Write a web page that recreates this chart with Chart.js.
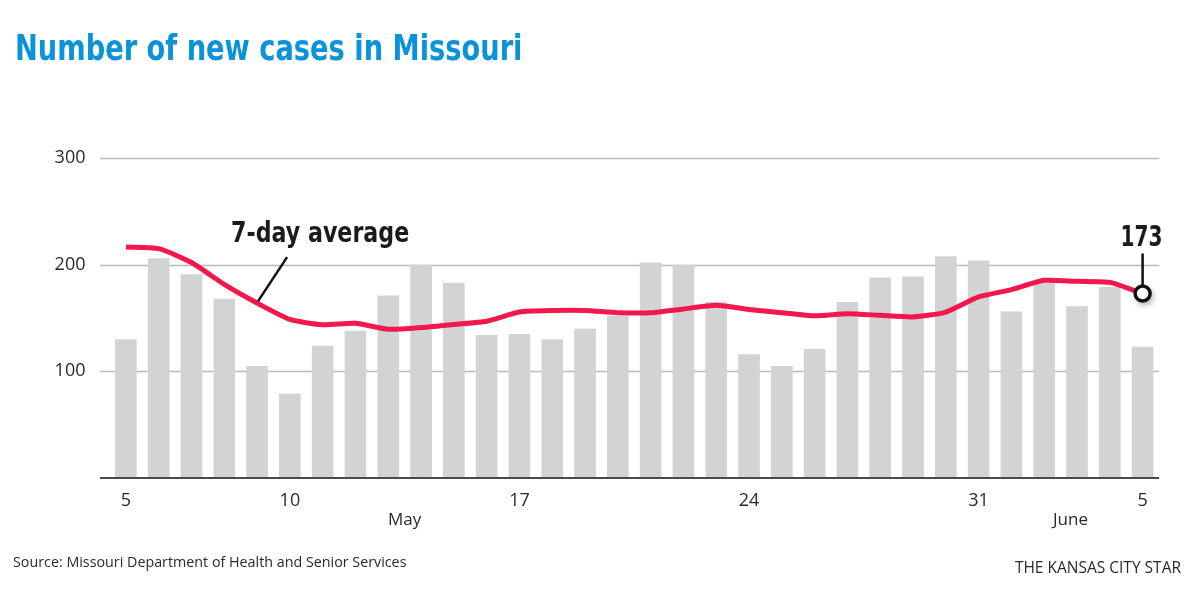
<!DOCTYPE html>
<html>
<head>
<meta charset="utf-8">
<script src="https://cdn.jsdelivr.net/npm/chart.js@4.4.1/dist/chart.umd.min.js"></script>
<style>
  html, body { margin: 0; padding: 0; background: #fff; }
  #wrap { position: relative; width: 1200px; height: 592px; overflow: hidden; }
  #chart { position: absolute; left: 0; top: 0; }
  #title {
    position: absolute; left: 15px; top: 28px;
    font-family: 'DejaVu Sans Condensed', 'DejaVu Sans', sans-serif;
    font-weight: bold; font-size: 35px; color: #0a93d9; white-space: nowrap;
    transform: scaleX(0.866); transform-origin: left top;
  }
  .foot { position: absolute; font-family: 'Open Sans', sans-serif; color: #2a2a2a; white-space: nowrap; }
  #source { left: 13px; top: 552px; font-size: 14.3px; }
  #credit { right: 19px; top: 556px; font-size: 15.5px; }
</style>
</head>
<body>
<div id="wrap">
  <canvas id="chart" width="1200" height="592"></canvas>
  <div id="title">Number of new cases in Missouri</div>
  <div id="source" class="foot">Source: Missouri Department of Health and Senior Services</div>
  <div id="credit" class="foot">THE KANSAS CITY STAR</div>
</div>
<script>
const dates = [
  'May 5', 'May 6', 'May 7', 'May 8', 'May 9', 'May 10', 'May 11', 'May 12',
  'May 13', 'May 14', 'May 15', 'May 16', 'May 17', 'May 18', 'May 19', 'May 20',
  'May 21', 'May 22', 'May 23', 'May 24', 'May 25', 'May 26', 'May 27', 'May 28',
  'May 29', 'May 30', 'May 31', 'June 1', 'June 2', 'June 3', 'June 4', 'June 5'
];
const newCases = [
  130, 206, 191, 168, 105, 79, 124, 138, 171, 200,
  183, 134, 135, 130, 140, 152, 202, 200, 165, 116,
  105, 121, 165, 188, 189, 208, 204, 156, 183, 161,
  179, 123
];
const sevenDayAvg = [
  216.5, 215, 202, 181.5, 164, 148.7, 143.7, 145, 139.4, 141,
  144, 147, 155.6, 157, 157, 155, 155, 158.5, 162, 158,
  155, 152, 154, 152.5, 151, 155.6, 169.7, 176.6, 185.3, 184.4,
  183.4, 173
];
const yTicks = [100, 200, 300];
const xTickDates = ['May 5', 'May 10', 'May 17', 'May 24', 'May 31', 'June 5'];
const monthNames = ['May', 'June'];
const monthCenters = [8.5, 28.8]; // position on the date axis (category index)
const avgLabel = '7-day average';
const lastLabel = '173';

const boldCond = "'DejaVu Sans Condensed', 'DejaVu Sans', sans-serif";

// draw text squeezed horizontally (no narrow bold face installed)
function squeezedText(ctx, text, x, y, sx) {
  ctx.save();
  ctx.translate(x, y);
  ctx.scale(sx, 1);
  ctx.fillText(text, 0, 0);
  ctx.restore();
}

// gridlines, baseline, month names and callouts
const decorations = {
  id: 'decorations',
  beforeDatasetsDraw(chart) {
    const { ctx, chartArea, scales: { y } } = chart;
    ctx.save();
    ctx.strokeStyle = '#b9b9b9';
    ctx.lineWidth = 1.5;
    yTicks.forEach(v => {
      const py = Math.round(y.getPixelForValue(v)) + 0.5;
      ctx.beginPath();
      ctx.moveTo(100, py);
      ctx.lineTo(chartArea.right, py);
      ctx.stroke();
    });
    ctx.restore();
  },
  afterDatasetsDraw(chart) {
    const { ctx, chartArea, scales: { x, y } } = chart;
    ctx.save();
    // baseline
    const by = y.getPixelForValue(0);
    ctx.strokeStyle = '#4a4a4a';
    ctx.lineWidth = 2;
    ctx.beginPath();
    ctx.moveTo(100, by);
    ctx.lineTo(chartArea.right, by);
    ctx.stroke();

    // month names under the ticks
    ctx.fillStyle = '#2a2a2a';
    ctx.font = "17px 'Open Sans', sans-serif";
    ctx.textAlign = 'center';
    ctx.textBaseline = 'middle';
    monthNames.forEach((m, i) => {
      ctx.fillText(m, x.getPixelForValue(monthCenters[i]), 520);
    });

    const pts = chart.getDatasetMeta(0).data;

    // "7-day average" callout
    const p = pts[4];
    ctx.strokeStyle = '#111';
    ctx.lineWidth = 2.5;
    ctx.beginPath();
    ctx.moveTo(p.x + 1, p.y - 2);
    ctx.lineTo(p.x + 30, p.y - 46);
    ctx.stroke();
    ctx.fillStyle = '#1c1a1b';
    ctx.font = 'bold 28px ' + boldCond;
    ctx.textAlign = 'left';
    ctx.textBaseline = 'alphabetic';
    squeezedText(ctx, avgLabel, p.x - 26, p.y - 61, 0.88);

    // end point marker
    const q = pts[pts.length - 1];
    ctx.beginPath();
    ctx.moveTo(q.x, q.y - 8);
    ctx.lineTo(q.x, q.y - 40);
    ctx.stroke();
    ctx.textAlign = 'center';
    squeezedText(ctx, lastLabel, q.x - 1, q.y - 47, 0.8);

    ctx.shadowColor = 'rgba(0,0,0,0.45)';
    ctx.shadowBlur = 7;
    ctx.shadowOffsetX = 2;
    ctx.shadowOffsetY = 3;
    ctx.beginPath();
    ctx.arc(q.x, q.y, 7.5, 0, Math.PI * 2);
    ctx.fillStyle = '#fff';
    ctx.fill();
    ctx.shadowColor = 'transparent';
    ctx.lineWidth = 3.5;
    ctx.strokeStyle = '#111';
    ctx.stroke();
    ctx.restore();
  }
};

new Chart(document.getElementById('chart'), {
  type: 'bar',
  data: {
    labels: dates,
    datasets: [
      {
        type: 'line',
        data: sevenDayAvg,
        borderColor: '#f2184b',
        borderWidth: 5,
        tension: 0.2,
        pointRadius: 0,
        order: 0
      },
      {
        type: 'bar',
        data: newCases,
        backgroundColor: '#d1d3d4',
        barPercentage: 0.66,
        categoryPercentage: 1,
        order: 1
      }
    ]
  },
  options: {
    responsive: false,
    animation: false,
    layout: { padding: { left: 0, right: 41, top: 158, bottom: 54 } },
    plugins: { legend: { display: false }, tooltip: { enabled: false } },
    scales: {
      x: {
        grid: { display: false },
        border: { display: false },
        afterFit(scale) { scale.height = 60; },
        ticks: {
          autoSkip: false,
          maxRotation: 0,
          padding: 4,
          color: '#2a2a2a',
          font: { family: "'Open Sans', sans-serif", size: 18 },
          callback(value) {
            const d = dates[value];
            return xTickDates.includes(d) ? d.split(' ')[1] : '';
          }
        }
      },
      y: {
        min: 0,
        max: 300,
        grid: { display: false },
        border: { display: false },
        afterFit(scale) { scale.width = 109.5; },
        afterBuildTicks(scale) { scale.ticks = yTicks.map(v => ({ value: v })); },
        ticks: {
          padding: 16,
          color: '#2a2a2a',
          font: { family: "'Open Sans', sans-serif", size: 18 }
        }
      }
    }
  },
  plugins: [decorations]
});
</script>
</body>
</html>
